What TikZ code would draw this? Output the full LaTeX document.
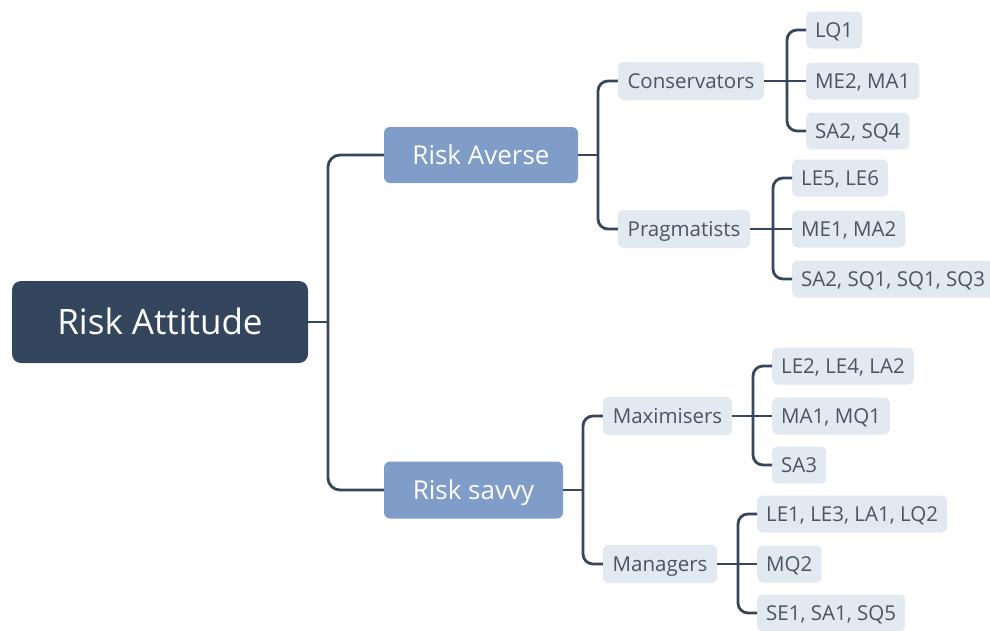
\documentclass[tikz,border=0pt]{standalone}
\usepackage{fontspec}
\setmainfont{Open Sans}
\definecolor{rootfill}{HTML}{34455E}
\definecolor{topicfill}{HTML}{7F9DC8}
\definecolor{leaffill}{HTML}{E3E9F1}
\definecolor{leaftext}{HTML}{4A5464}
\definecolor{linecol}{HTML}{37465A}
\begin{document}
\begin{tikzpicture}[x=1pt,y=-1pt,
  rootbox/.style={fill=rootfill, text=white, rounded corners=9pt, inner sep=0pt,
    minimum height=82pt, font=\fontsize{35}{40}\selectfont, text height=25pt, text depth=0pt},
  topicbox/.style={fill=topicfill, text=white, rounded corners=6pt, inner sep=0pt,
    font=\fontsize{26}{30}\selectfont, text height=18.6pt, text depth=0pt},
  subbox/.style={fill=leaffill, text=leaftext, rounded corners=5pt, inner sep=0pt,
    minimum height=38pt, font=\fontsize{20.5}{24}\selectfont, text height=14.6pt, text depth=0pt},
  leafbox/.style={subbox, anchor=west, inner xsep=9pt, minimum height=37pt},
  conn/.style={draw=linecol, line width=2.8pt, rounded corners=10pt},
]
\useasboundingbox (0,0) rectangle (990,630);

% root and main topics
\node[rootbox, minimum width=296pt] (root) at (160,322) {Risk Attitude};
\node[topicbox, minimum width=194pt, minimum height=56pt] (ra) at (481,155) {Risk Averse};
\node[topicbox, minimum width=179pt, minimum height=57pt] (rs) at (473.5,490) {Risk savvy};

% sub-topics
\node[subbox, minimum width=146pt] (cons) at (691,81) {Conservators};
\node[subbox, minimum width=132pt] (prag) at (684,229) {Pragmatists};
\node[subbox, minimum width=129pt] (maxi) at (667.5,416) {Maximisers};
\node[subbox, minimum width=114pt] (mana) at (660,564) {Managers};

% leaves
\node[leafbox] (l11) at (806,30)  {LQ1};
\node[leafbox] (l12) at (806,81)  {ME2, MA1};
\node[leafbox] (l13) at (806,131) {SA2, SQ4};
\node[leafbox] (l21) at (792,178) {LE5, LE6};
\node[leafbox] (l22) at (792,229) {ME1, MA2};
\node[leafbox] (l23) at (792,279) {SA2, SQ1, SQ1, SQ3\hspace{12pt}};
\node[leafbox] (l31) at (772,366) {LE2, LE4, LA2};
\node[leafbox] (l32) at (772,416) {MA1, MQ1};
\node[leafbox] (l33) at (772,465) {SA3};
\node[leafbox] (l41) at (757,514) {LE1, LE3, LA1, LQ2};
\node[leafbox] (l42) at (757,564) {MQ2};
\node[leafbox] (l43) at (757,613) {SE1, SA1, SQ5};

% junction points of the tree
\coordinate (j0)  at (328,322);
\coordinate (j1)  at (598,155);
\coordinate (j11) at (787,81);
\coordinate (j12) at (773,229);
\coordinate (j2)  at (583,490);
\coordinate (j21) at (753,416);
\coordinate (j22) at (738,564);

% connectors
\draw[conn] (root.east) -- (j0);
\draw[conn, rounded corners=12pt] (ra.west) -| (j0) |- (rs.west);

\draw[conn] (ra.east) -- (j1);
\draw[conn] (cons.west) -| (j1) |- (prag.west);
\draw[conn] (rs.east) -- (j2);
\draw[conn] (maxi.west) -| (j2) |- (mana.west);

\draw[conn] (cons.east) -- (l12.west);
\draw[conn] (l11.west) -| (j11) |- (l13.west);
\draw[conn] (prag.east) -- (l22.west);
\draw[conn] (l21.west) -| (j12) |- (l23.west);
\draw[conn] (maxi.east) -- (l32.west);
\draw[conn] (l31.west) -| (j21) |- (l33.west);
\draw[conn] (mana.east) -- (l42.west);
\draw[conn] (l41.west) -| (j22) |- (l43.west);
\end{tikzpicture}
\end{document}
